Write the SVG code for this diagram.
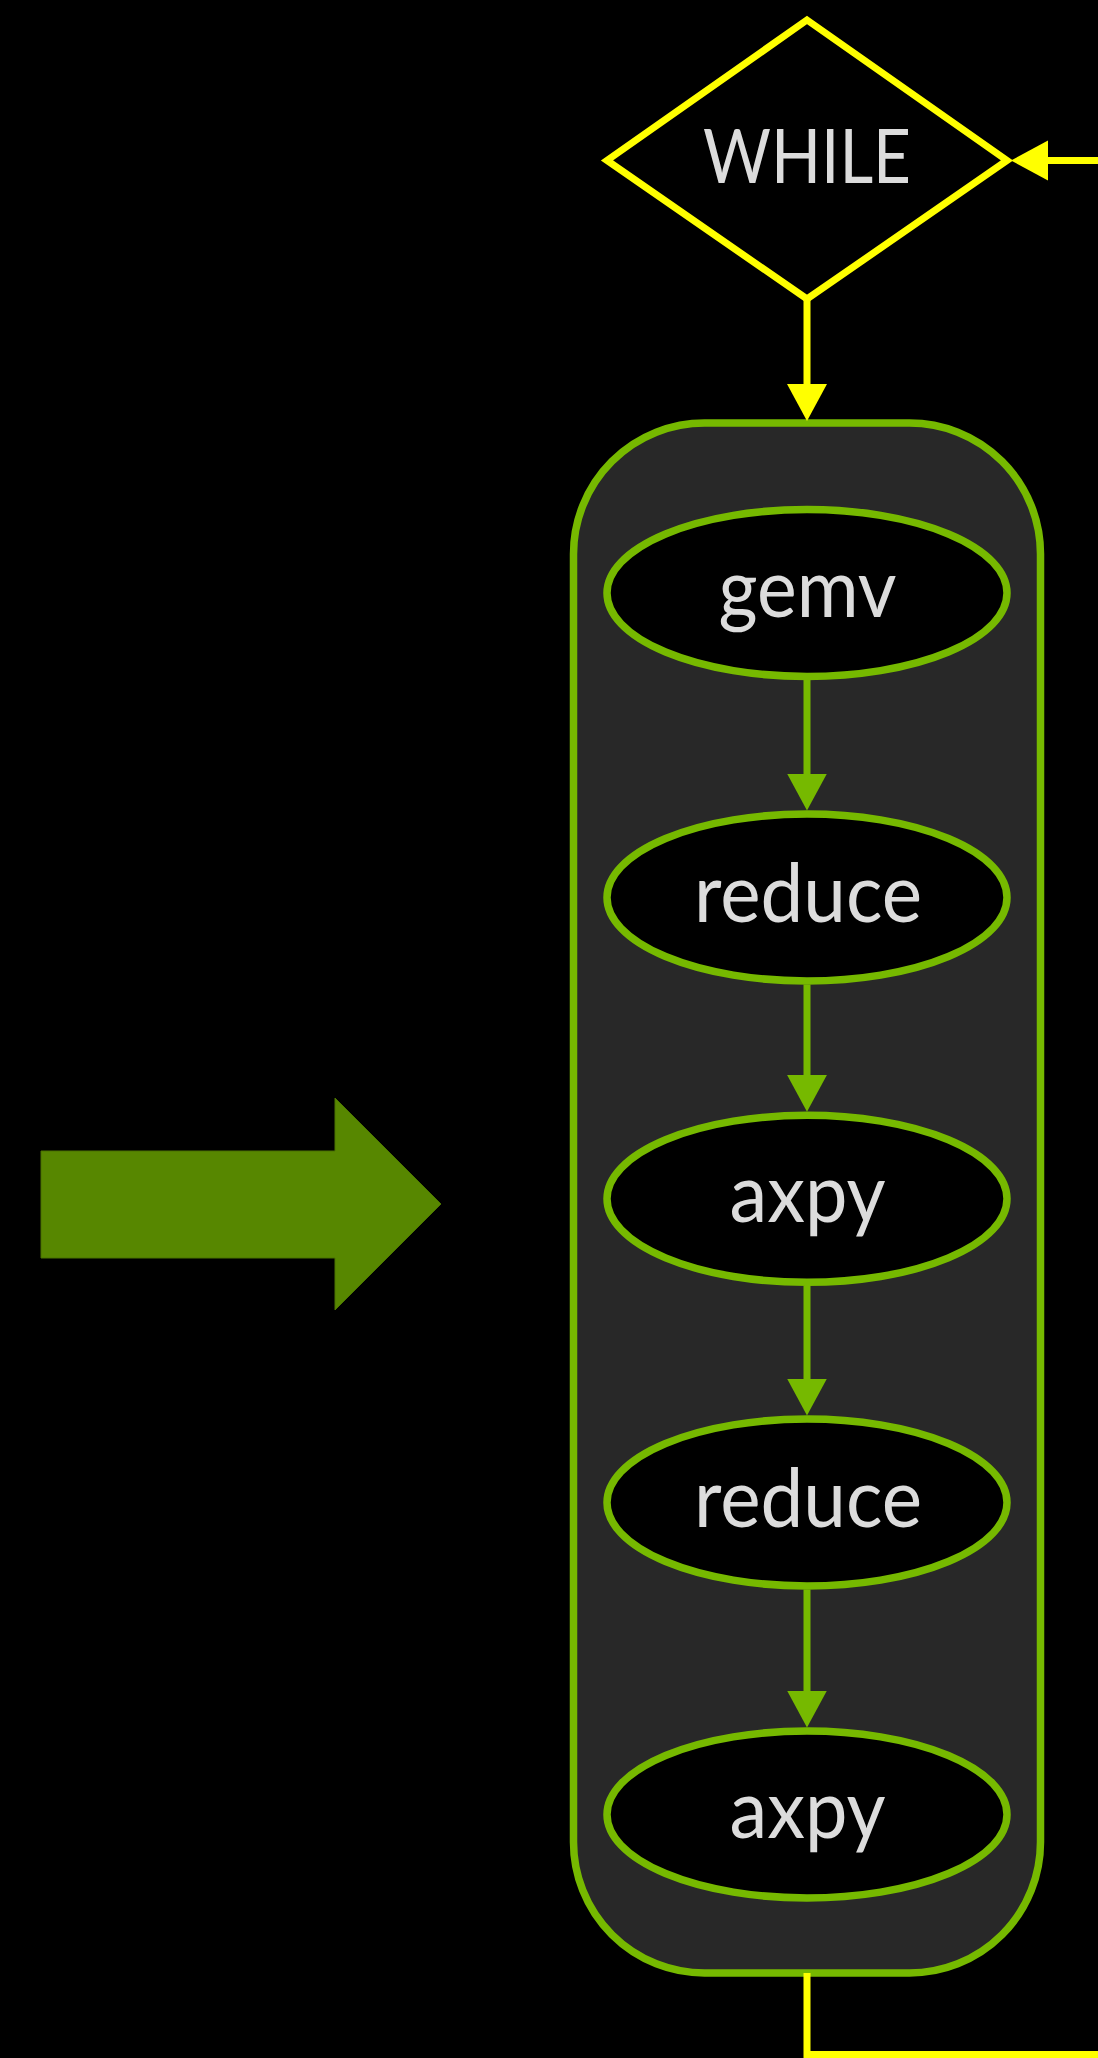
<svg xmlns="http://www.w3.org/2000/svg" width="1098" height="2058" viewBox="0 0 1098 2058">
  <style>
    .lbl { font-family: Lato, "Open Sans", "DejaVu Sans", sans-serif; font-size: 82px; fill: #dcdcdc; text-anchor: middle; }
    .cap { font-size: 75px; }
    .proc { fill: #000000; stroke: #76b900; stroke-width: 7.5; }
    .gline { fill: none; stroke: #76b900; stroke-width: 7; }
    .yline { fill: none; stroke: #ffff00; stroke-width: 7; }
  </style>
  <defs>
    <marker id="ahGreen" markerUnits="userSpaceOnUse" markerWidth="40" markerHeight="42" refX="7" refY="20" orient="auto">
      <path d="M0,0 L37,20 L0,40 Z" fill="#76b900"/>
    </marker>
    <marker id="ahYellow" markerUnits="userSpaceOnUse" markerWidth="40" markerHeight="42" refX="7" refY="20" orient="auto">
      <path d="M0,0 L37,20 L0,40 Z" fill="#ffff00"/>
    </marker>
  </defs>
  <rect x="0" y="0" width="1098" height="2058" fill="#000000"/>

  <g id="bigArrow">
    <path d="M41,1151 L335,1151 L335,1098 L441,1204 L335,1310 L335,1258 L41,1258 Z" fill="#578700" stroke="#4a7300" stroke-width="1"/>
  </g>

  <g id="loop">
    <rect x="573.5" y="423" width="467" height="1550" rx="131" ry="131" fill="#282828" stroke="#76b900" stroke-width="7.5"/>
  </g>

  <g id="connectors">
    <path class="yline" d="M1098,160.5 L1041,160.5" marker-end="url(#ahYellow)"/>
    <path class="yline" d="M807,300 L807,391" marker-end="url(#ahYellow)"/>
    <path class="yline" d="M807,1973 L807,2054.5 L1098,2054.5"/>
    <path class="gline" d="M807,680 L807,780.5" marker-end="url(#ahGreen)"/>
    <path class="gline" d="M807,984.5 L807,1081.8" marker-end="url(#ahGreen)"/>
    <path class="gline" d="M807,1285.8 L807,1385.5" marker-end="url(#ahGreen)"/>
    <path class="gline" d="M807,1589.5 L807,1697.5" marker-end="url(#ahGreen)"/>
  </g>

  <g id="while">
    <polygon points="807,20 1007,160.5 807,299 607,160.5" fill="#000000" stroke="#ffff00" stroke-width="7"/>
    <text class="lbl cap" x="807" y="183" textLength="208" lengthAdjust="spacingAndGlyphs">WHILE</text>
  </g>

  <g id="gemv">
    <ellipse class="proc" cx="807" cy="593" rx="200" ry="83.5"/>
    <text class="lbl" x="807.5" y="617" textLength="178" lengthAdjust="spacingAndGlyphs">gemv</text>
  </g>

  <g id="reduce1">
    <ellipse class="proc" cx="807" cy="897.5" rx="200" ry="83.5"/>
    <text class="lbl" x="808" y="921.5" textLength="228" lengthAdjust="spacingAndGlyphs">reduce</text>
  </g>

  <g id="axpy1">
    <ellipse class="proc" cx="807" cy="1198.8" rx="200" ry="83.5"/>
    <text class="lbl" x="807.5" y="1222" textLength="156" lengthAdjust="spacingAndGlyphs">axpy</text>
  </g>

  <g id="reduce2">
    <ellipse class="proc" cx="807" cy="1502.5" rx="200" ry="83.5"/>
    <text class="lbl" x="808" y="1526.5" textLength="228" lengthAdjust="spacingAndGlyphs">reduce</text>
  </g>

  <g id="axpy2">
    <ellipse class="proc" cx="807" cy="1814.5" rx="200" ry="83.5"/>
    <text class="lbl" x="807.5" y="1838" textLength="156" lengthAdjust="spacingAndGlyphs">axpy</text>
  </g>
</svg>
